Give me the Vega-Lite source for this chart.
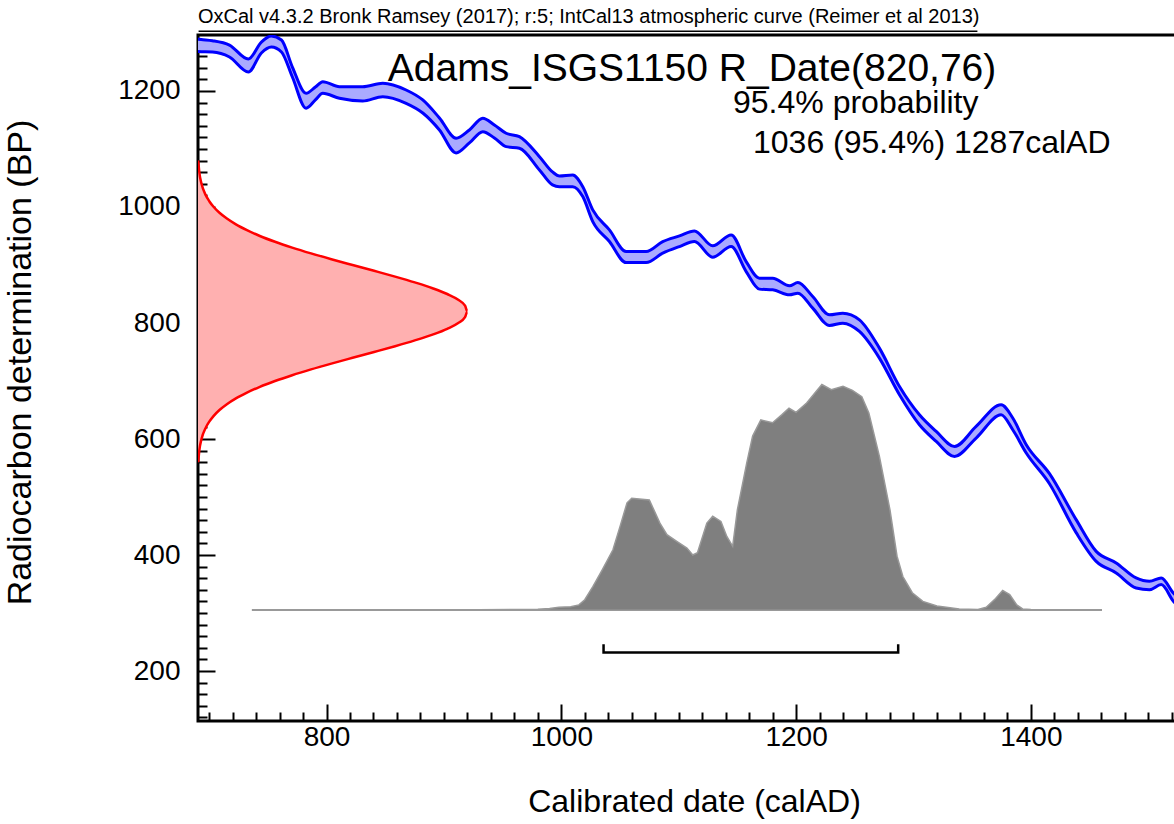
{
  "$schema": "https://vega.github.io/schema/vega-lite/v6.json",
  "width": 992,
  "height": 686,
  "autosize": {"type": "none"},
  "padding": {"left": 198, "top": 35, "right": 0, "bottom": 103},
  "background": "white",
  "title": {
    "text": "OxCal v4.3.2 Bronk Ramsey (2017); r:5; IntCal13 atmospheric curve (Reimer et al 2013)",
    "anchor": "start",
    "frame": "group",
    "offset": 3,
    "font": "Liberation Sans",
    "fontSize": 20,
    "fontWeight": "normal",
    "color": "black"
  },
  "config": {
    "view": {"stroke": "black", "strokeWidth": 3},
    "font": "Liberation Sans",
    "axis": {
      "grid": false,
      "domain": false,
      "tickColor": "black",
      "tickWidth": 2,
      "labelFont": "Liberation Sans",
      "labelFontSize": 28,
      "labelColor": "black",
      "titleFont": "Liberation Sans",
      "titleFontWeight": "normal",
      "titleColor": "black"
    }
  },
  "datasets": {
    "curve": [
      {"year": 688, "hi": 1290, "lo": 1268},
      {"year": 693.2, "hi": 1288.7, "lo": 1267.7},
      {"year": 702.8, "hi": 1286.7, "lo": 1267.2},
      {"year": 717.3, "hi": 1279.2, "lo": 1258.6},
      {"year": 733.4, "hi": 1255.1, "lo": 1232.7},
      {"year": 744.5, "hi": 1284.4, "lo": 1265.5},
      {"year": 753.0, "hi": 1294.7, "lo": 1275.8},
      {"year": 761.6, "hi": 1287.9, "lo": 1267.2},
      {"year": 770.9, "hi": 1241.3, "lo": 1224.1},
      {"year": 782.6, "hi": 1196.0, "lo": 1170.2},
      {"year": 790.5, "hi": 1206.9, "lo": 1184.5},
      {"year": 796.8, "hi": 1216.0, "lo": 1196.0},
      {"year": 811.0, "hi": 1207.4, "lo": 1187.4},
      {"year": 830.8, "hi": 1207.4, "lo": 1182.8},
      {"year": 847.9, "hi": 1213.3, "lo": 1190.2},
      {"year": 867.8, "hi": 1201.7, "lo": 1178.8},
      {"year": 882.0, "hi": 1184.5, "lo": 1162.1},
      {"year": 896.2, "hi": 1153.5, "lo": 1132.8},
      {"year": 910.4, "hi": 1118.5, "lo": 1093.2},
      {"year": 921.7, "hi": 1132.8, "lo": 1110.4},
      {"year": 933.1, "hi": 1153.0, "lo": 1129.9},
      {"year": 943.0, "hi": 1141.4, "lo": 1119.0},
      {"year": 953.0, "hi": 1127.1, "lo": 1104.0},
      {"year": 964.3, "hi": 1121.3, "lo": 1101.3},
      {"year": 981.4, "hi": 1086.8, "lo": 1063.9},
      {"year": 992.5, "hi": 1060.5, "lo": 1038.1},
      {"year": 998.4, "hi": 1053.6, "lo": 1035.1},
      {"year": 1009.7, "hi": 1055.3, "lo": 1035.1},
      {"year": 1018.3, "hi": 1035.1, "lo": 1017.9},
      {"year": 1026.8, "hi": 995.0, "lo": 974.8},
      {"year": 1041.0, "hi": 960.5, "lo": 940.4},
      {"year": 1055.2, "hi": 923.2, "lo": 904.2},
      {"year": 1072.3, "hi": 923.2, "lo": 904.2},
      {"year": 1086.4, "hi": 940.4, "lo": 920.4},
      {"year": 1100.7, "hi": 950.2, "lo": 931.8},
      {"year": 1113.4, "hi": 958.8, "lo": 940.4},
      {"year": 1129.0, "hi": 933.0, "lo": 913.5},
      {"year": 1144.7, "hi": 951.9, "lo": 931.8},
      {"year": 1157.5, "hi": 905.9, "lo": 888.7},
      {"year": 1168.8, "hi": 877.3, "lo": 858.4},
      {"year": 1180.1, "hi": 877.3, "lo": 857.2},
      {"year": 1194.4, "hi": 864.1, "lo": 848.6},
      {"year": 1201.5, "hi": 869.8, "lo": 851.5},
      {"year": 1214.2, "hi": 845.6, "lo": 825.7},
      {"year": 1228.5, "hi": 814.1, "lo": 795.7},
      {"year": 1239.8, "hi": 817.0, "lo": 799.8},
      {"year": 1254.0, "hi": 805.5, "lo": 785.4},
      {"year": 1271.0, "hi": 756.7, "lo": 739.5},
      {"year": 1288.1, "hi": 690.6, "lo": 676.3},
      {"year": 1305.1, "hi": 641.8, "lo": 624.6},
      {"year": 1319.4, "hi": 613.1, "lo": 595.8},
      {"year": 1335.0, "hi": 587.2, "lo": 570.0},
      {"year": 1353.4, "hi": 621.7, "lo": 601.7},
      {"year": 1374.7, "hi": 659.1, "lo": 641.8},
      {"year": 1384.6, "hi": 636.2, "lo": 616.0},
      {"year": 1396.1, "hi": 590.2, "lo": 575.9},
      {"year": 1415.9, "hi": 540.2, "lo": 523.0},
      {"year": 1438.6, "hi": 461.0, "lo": 438.6},
      {"year": 1455.7, "hi": 406.3, "lo": 389.1},
      {"year": 1472.7, "hi": 386.4, "lo": 369.1},
      {"year": 1489.7, "hi": 360.5, "lo": 343.3},
      {"year": 1501.1, "hi": 354.7, "lo": 340.3},
      {"year": 1511.1, "hi": 360.5, "lo": 349.0},
      {"year": 1521.6, "hi": 334.1, "lo": 319.9},
      {"year": 1536, "hi": 312, "lo": 296}
    ],
    "rdate": [
      {"bp": 560, "dens": 690.7},
      {"bp": 580, "dens": 691.6},
      {"bp": 600, "dens": 693.5},
      {"bp": 620, "dens": 697.2},
      {"bp": 630, "dens": 700.1},
      {"bp": 640, "dens": 703.9},
      {"bp": 650, "dens": 708.8},
      {"bp": 660, "dens": 715.1},
      {"bp": 670, "dens": 722.8},
      {"bp": 680, "dens": 732.2},
      {"bp": 690, "dens": 743.2},
      {"bp": 700, "dens": 756.1},
      {"bp": 710, "dens": 770.7},
      {"bp": 720, "dens": 786.8},
      {"bp": 730, "dens": 804.1},
      {"bp": 740, "dens": 822.2},
      {"bp": 750, "dens": 840.5},
      {"bp": 760, "dens": 858.4},
      {"bp": 770, "dens": 875.2},
      {"bp": 780, "dens": 890.3},
      {"bp": 790, "dens": 902.8},
      {"bp": 800, "dens": 912.2},
      {"bp": 810, "dens": 918.0},
      {"bp": 820, "dens": 920.0},
      {"bp": 830, "dens": 918.0},
      {"bp": 840, "dens": 912.2},
      {"bp": 850, "dens": 902.8},
      {"bp": 860, "dens": 890.3},
      {"bp": 870, "dens": 875.2},
      {"bp": 880, "dens": 858.4},
      {"bp": 890, "dens": 840.5},
      {"bp": 900, "dens": 822.2},
      {"bp": 910, "dens": 804.1},
      {"bp": 920, "dens": 786.8},
      {"bp": 930, "dens": 770.7},
      {"bp": 940, "dens": 756.1},
      {"bp": 950, "dens": 743.2},
      {"bp": 960, "dens": 732.2},
      {"bp": 970, "dens": 722.8},
      {"bp": 980, "dens": 715.1},
      {"bp": 990, "dens": 708.8},
      {"bp": 1000, "dens": 703.9},
      {"bp": 1010, "dens": 700.1},
      {"bp": 1020, "dens": 697.2},
      {"bp": 1040, "dens": 693.5},
      {"bp": 1060, "dens": 691.6},
      {"bp": 1080, "dens": 690.7}
    ],
    "post": [
      {"year": 737, "bp": 305.5},
      {"year": 930, "bp": 305.8},
      {"year": 980, "bp": 306.5},
      {"year": 990, "bp": 308},
      {"year": 998, "bp": 310},
      {"year": 1008, "bp": 311},
      {"year": 1015, "bp": 314},
      {"year": 1020, "bp": 323},
      {"year": 1027, "bp": 346},
      {"year": 1035, "bp": 375},
      {"year": 1044, "bp": 409},
      {"year": 1050, "bp": 449},
      {"year": 1056, "bp": 490},
      {"year": 1060, "bp": 498},
      {"year": 1075, "bp": 495},
      {"year": 1084, "bp": 455},
      {"year": 1090, "bp": 435},
      {"year": 1098, "bp": 424},
      {"year": 1107, "bp": 412},
      {"year": 1112, "bp": 400},
      {"year": 1116, "bp": 404},
      {"year": 1124, "bp": 455},
      {"year": 1129, "bp": 467},
      {"year": 1136, "bp": 458},
      {"year": 1141, "bp": 432},
      {"year": 1146, "bp": 415},
      {"year": 1150, "bp": 478},
      {"year": 1158, "bp": 559},
      {"year": 1163, "bp": 605},
      {"year": 1170, "bp": 633},
      {"year": 1180, "bp": 628},
      {"year": 1188, "bp": 642},
      {"year": 1194, "bp": 653},
      {"year": 1200, "bp": 646},
      {"year": 1209, "bp": 662},
      {"year": 1222, "bp": 694},
      {"year": 1230, "bp": 685},
      {"year": 1240, "bp": 691},
      {"year": 1248, "bp": 684},
      {"year": 1256, "bp": 673},
      {"year": 1262, "bp": 645},
      {"year": 1271, "bp": 570},
      {"year": 1280, "bp": 478},
      {"year": 1286, "bp": 398},
      {"year": 1291, "bp": 363},
      {"year": 1299, "bp": 335},
      {"year": 1308, "bp": 320},
      {"year": 1320, "bp": 312},
      {"year": 1339, "bp": 307},
      {"year": 1355, "bp": 306},
      {"year": 1362, "bp": 310},
      {"year": 1370, "bp": 325},
      {"year": 1376, "bp": 339},
      {"year": 1382, "bp": 332},
      {"year": 1388, "bp": 314},
      {"year": 1393, "bp": 307},
      {"year": 1400, "bp": 306},
      {"year": 1460, "bp": 305.5}
    ],
    "bracket": [
      {"year": 1036, "bp": 246, "o": 1},
      {"year": 1036, "bp": 232, "o": 2},
      {"year": 1287, "bp": 232, "o": 3},
      {"year": 1287, "bp": 246, "o": 4}
    ]
  },
  "encoding": {
    "x": {
      "type": "quantitative",
      "scale": {"domain": [690.5, 1535.6], "nice": false, "zero": false},
      "axis": {
        "title": "Calibrated date (calAD)",
        "titleFontSize": 32,
        "format": "d",
        "values": [700,720,740,760,780,800,820,840,860,880,900,920,940,960,980,1000,1020,1040,1060,1080,1100,1120,1140,1160,1180,1200,1220,1240,1260,1280,1300,1320,1340,1360,1380,1400,1420,1440,1460,1480,1500,1520],
        "tickSize": {"condition": {"test": "datum.value % 200 === 0", "value": -17}, "value": -9},
        "labelExpr": "datum.value % 200 === 0 ? datum.label : ''",
        "labelPadding": 19,
        "labelFlush": false,
        "labelOverlap": false,
        "titlePadding": 27
      }
    },
    "y": {
      "type": "quantitative",
      "scale": {"domain": [113.9, 1296.5], "nice": false, "zero": false},
      "axis": {
        "title": "Radiocarbon determination (BP)",
        "titleFontSize": 34,
        "titleY": 327,
        "format": "d",
        "values": [120,140,160,180,200,220,240,260,280,300,320,340,360,380,400,420,440,460,480,500,520,540,560,580,600,620,640,660,680,700,720,740,760,780,800,820,840,860,880,900,920,940,960,980,1000,1020,1040,1060,1080,1100,1120,1140,1160,1180,1200,1220,1240,1260,1280],
        "tickSize": {"condition": {"test": "datum.value % 200 === 0", "value": -17}, "value": -9},
        "labelExpr": "datum.value % 200 === 0 ? datum.label : ''",
        "labelPadding": 35,
        "labelFlush": false,
        "labelOverlap": false,
        "titlePadding": 80
      }
    }
  },
  "layer": [
    {
      "data": {"name": "curve"},
      "mark": {"type": "area", "color": "#aaaaff", "clip": true, "interpolate": "monotone"},
      "encoding": {
        "x": {"field": "year", "type": "quantitative"},
        "y": {"field": "hi", "type": "quantitative"},
        "y2": {"field": "lo"}
      }
    },
    {
      "data": {"name": "curve"},
      "mark": {"type": "line", "color": "#0000ff", "strokeWidth": 3, "clip": true, "interpolate": "monotone"},
      "encoding": {
        "x": {"field": "year", "type": "quantitative"},
        "y": {"field": "hi", "type": "quantitative"}
      }
    },
    {
      "data": {"name": "curve"},
      "mark": {"type": "line", "color": "#0000ff", "strokeWidth": 3, "clip": true, "interpolate": "monotone"},
      "encoding": {
        "x": {"field": "year", "type": "quantitative"},
        "y": {"field": "lo", "type": "quantitative"}
      }
    },
    {
      "data": {"name": "rdate"},
      "mark": {"type": "area", "orient": "horizontal", "color": "#ffb0b0", "clip": true, "interpolate": "monotone"},
      "encoding": {
        "y": {"field": "bp", "type": "quantitative"},
        "x": {"field": "dens", "type": "quantitative"},
        "x2": {"datum": 690.5}
      }
    },
    {
      "data": {"name": "rdate"},
      "mark": {"type": "line", "color": "#ff0000", "strokeWidth": 2.5, "clip": true, "interpolate": "monotone"},
      "encoding": {
        "y": {"field": "bp", "type": "quantitative"},
        "x": {"field": "dens", "type": "quantitative"},
        "order": {"field": "bp"}
      }
    },
    {
      "data": {"name": "post"},
      "mark": {"type": "area", "color": "#7f7f7f", "stroke": "#999999", "strokeWidth": 1.5, "clip": true},
      "encoding": {
        "x": {"field": "year", "type": "quantitative"},
        "y": {"field": "bp", "type": "quantitative"},
        "y2": {"datum": 305}
      }
    },
    {
      "data": {"name": "bracket"},
      "mark": {"type": "line", "color": "black", "strokeWidth": 2.5, "clip": true},
      "encoding": {
        "x": {"field": "year", "type": "quantitative"},
        "y": {"field": "bp", "type": "quantitative"},
        "order": {"field": "o"}
      }
    },
    {
      "data": {"values": [{"x1": 691, "x2": 1354.5, "y": 1303}]},
      "mark": {"type": "rule", "color": "black", "strokeWidth": 1.5, "clip": false},
      "encoding": {
        "x": {"field": "x1", "type": "quantitative"},
        "x2": {"field": "x2"},
        "y": {"field": "y", "type": "quantitative"}
      }
    },
    {
      "data": {"values": [{"label": "Adams_ISGS1150 R_Date(820,76)", "year": 1111.4, "bp": 1217}]},
      "mark": {"type": "text", "align": "center", "baseline": "alphabetic", "fontSize": 39, "font": "Liberation Sans", "color": "black"},
      "encoding": {
        "x": {"field": "year", "type": "quantitative"},
        "y": {"field": "bp", "type": "quantitative"},
        "text": {"field": "label"}
      }
    },
    {
      "data": {"values": [{"label": "95.4% probability", "year": 1146.3, "bp": 1162}]},
      "mark": {"type": "text", "align": "left", "baseline": "alphabetic", "fontSize": 32, "font": "Liberation Sans", "color": "black"},
      "encoding": {
        "x": {"field": "year", "type": "quantitative"},
        "y": {"field": "bp", "type": "quantitative"},
        "text": {"field": "label"}
      }
    },
    {
      "data": {"values": [{"label": "1036 (95.4%) 1287calAD", "year": 1163.3, "bp": 1093}]},
      "mark": {"type": "text", "align": "left", "baseline": "alphabetic", "fontSize": 32, "font": "Liberation Sans", "color": "black"},
      "encoding": {
        "x": {"field": "year", "type": "quantitative"},
        "y": {"field": "bp", "type": "quantitative"},
        "text": {"field": "label"}
      }
    }
  ]
}
